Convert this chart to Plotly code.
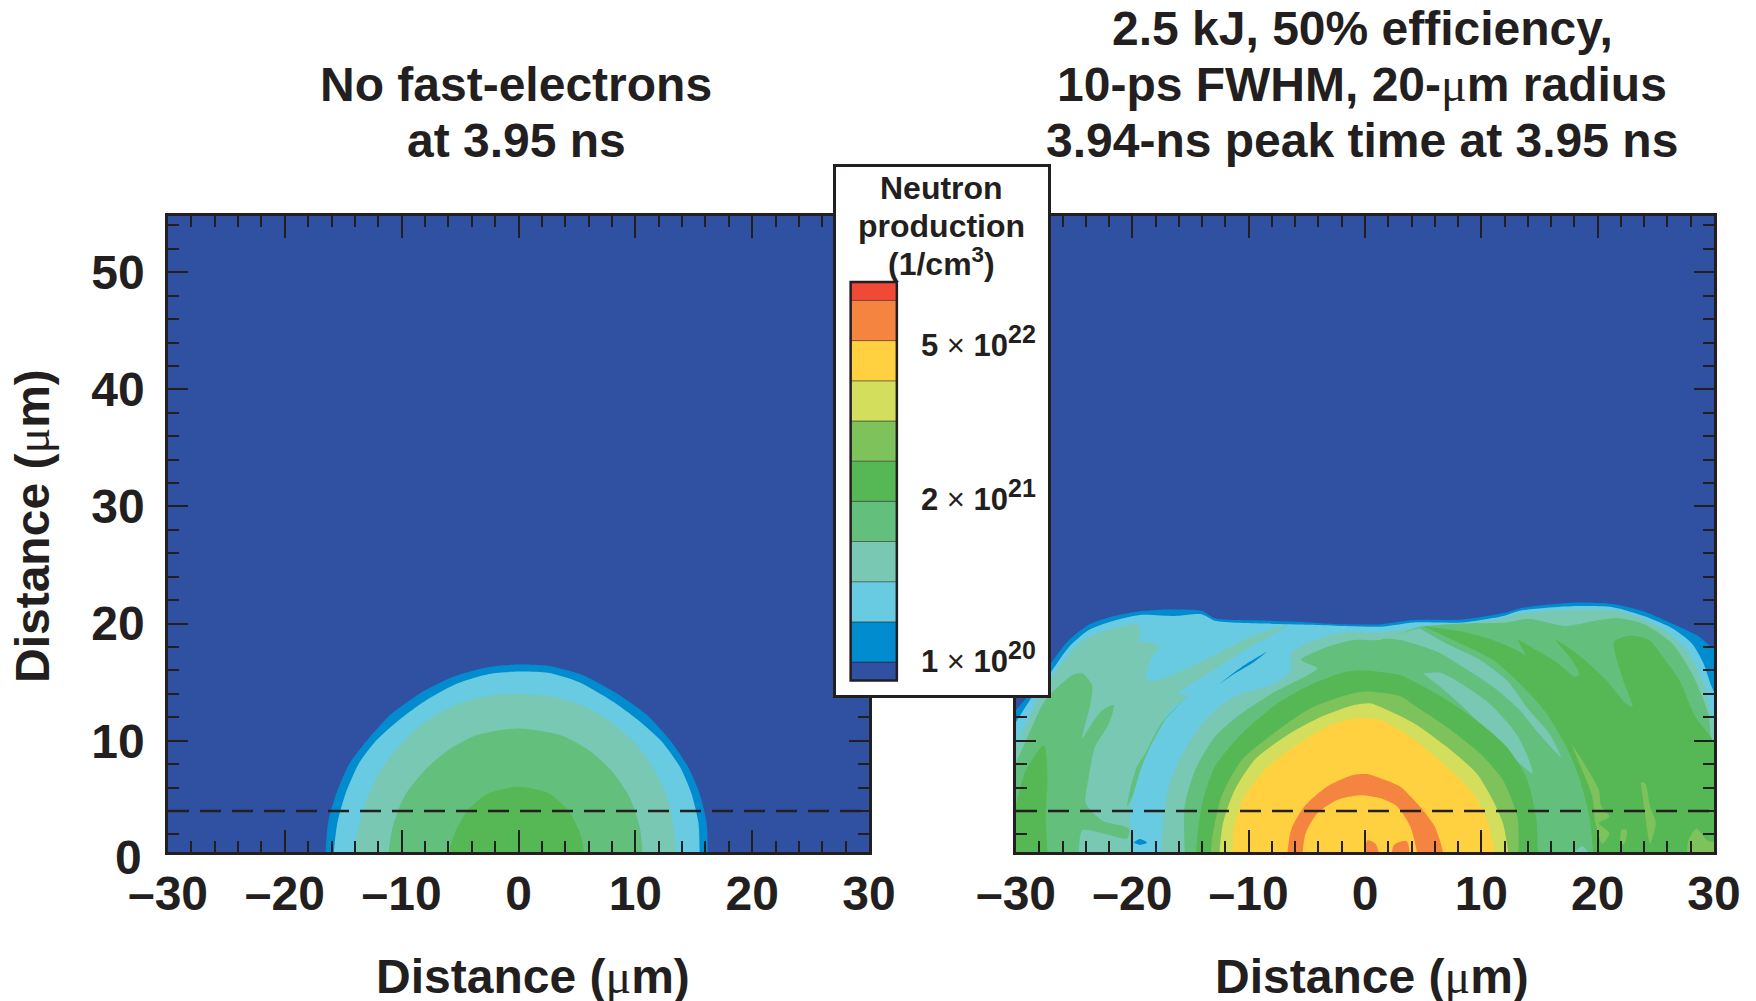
import numpy as np
import plotly.graph_objects as go

W, H = 1756, 1001
INK = "#231f20"
FONT = "Liberation Sans"

# colour levels, bottom to top of the scale
NAVY, BLUE, SKY, TEAL, MED, GREEN, LGREEN, LIME, YELLOW, ORANGE, RED = (
    "#3050a2", "#008ccf", "#68cbe2", "#78c8b4", "#62bf7c", "#55b855",
    "#7dc25a", "#d2de5c", "#ffd040", "#f58440", "#f04a36")
band_colors = [NAVY, BLUE, SKY, TEAL, MED, GREEN, LGREEN, LIME, YELLOW, ORANGE, RED]
band_heights = [0.46, 1, 1, 1, 1, 1, 1, 1, 1, 1, 0.46]

x_major = [-30, -20, -10, 0, 10, 20, 30]
x_major_text = ["–30", "–20", "–10", "0", "10", "20", "30"]
x_minor = [-28, -26, -24, -22, -18, -16, -14, -12, -8, -6, -4, -2, 2, 4, 6, 8, 12, 14, 16, 18, 22, 24, 26, 28]
y_major = [10, 20, 30, 40, 50]
y_major_text = ["10", "20", "30", "40", "50"]
y_minor = [2, 4, 6, 8, 12, 14, 16, 18, 22, 24, 26, 28, 32, 34, 36, 38, 42, 44, 46, 48, 52, 54]
dash_x = [-30, 30]
dash_y = [4, 4]

# LEFT PANEL: nested production contours
L_BLUE_X = [-16.5, -16.5, -16.3, -15.6, -14.5, -13, -11, -8.5, -5.5, -2.5, 0, 2.5, 5.5, 8.5, 11, 13, 14.5, 15.5, 16.1, 16.2, 16.2]
L_BLUE_Y = [-1, 0.5, 3, 5.5, 8, 10, 12.2, 14, 15.5, 16.3, 16.5, 16.4, 15.6, 14, 12.2, 10, 7.8, 5.5, 3, 0.5, -1]
L_SKY_X = [-15.8, -15.8, -15.5, -14.8, -13.7, -12.2, -10.2, -8, -5.2, -2.5, 0, 2.5, 5.2, 8, 10.2, 12.2, 13.8, 14.8, 15.4, 15.5, 15.5]
L_SKY_Y = [-1, 0.5, 3, 5.5, 8, 10, 11.8, 13.4, 14.9, 15.7, 15.9, 15.8, 15, 13.4, 11.8, 10, 7.8, 5.5, 3, 0.5, -1]
L_TEAL_X = [-14, -14, -13.7, -13, -11.8, -10, -8, -5.5, -2.8, 0, 2.8, 5.5, 8, 10, 11.6, 12.8, 13.3, 13.5, 13.5]
L_TEAL_Y = [-1, 0.5, 2.5, 5, 7.5, 9.8, 11.6, 13, 13.8, 14, 13.8, 13, 11.5, 9.8, 7.5, 5, 2.5, 0.5, -1]
L_MED_X = [-11.1, -11.1, -10.8, -9.8, -8, -6, -3.5, 0, 3.5, 6, 8, 9.5, 10.4, 10.6, 10.6]
L_MED_Y = [-1, 0.5, 2.5, 5.2, 7.5, 9.2, 10.5, 11.05, 10.5, 9.2, 7.4, 5.2, 2.5, 0.5, -1]
L_GREEN_X = [-5.9, -5.9, -5.5, -4.4, -2.6, 0, 2.6, 4.3, 5.3, 5.6, 5.6]
L_GREEN_Y = [-1, 0.5, 2, 4, 5.5, 6.07, 5.5, 4, 2, 0.5, -1]

# RIGHT PANEL: regions, painted from the outside in
R_BLUE_X = [-31, -30, -28.3, -26.9, -25.45, -23.75, -21.75, -19.75, -16.9, -14.05, -12.9, -8.35, -4.65, -2.1, 1.3, 4.2, 8.4, 11.9, 13.3, 15.6, 18.4, 21.3, 24.1, 26.4, 28.7, 29.8, 31, 31, -31]
R_BLUE_Y = [11, 12.6, 14.6, 16.75, 18.6, 19.9, 20.6, 21, 21.2, 21.1, 20.45, 20.25, 20.1, 19.95, 19.95, 20.3, 20.35, 20.9, 21.3, 21.6, 21.8, 21.67, 21, 20, 18.9, 18, 17.5, -1, -1]
R_SKY_X = [-31, -30, -28.3, -26.9, -25.45, -23.75, -21.75, -19.2, -16.35, -14.05, -12.9, -8.35, -4.65, 1.3, 4.2, 8.4, 11.9, 13.3, 15.6, 18.4, 21.3, 24.1, 26.4, 28.1, 29.1, 29.8, 31, 31, -31]
R_SKY_Y = [10, 11.6, 14.2, 16, 18, 19.45, 20.2, 20.75, 20.65, 20.8, 20.25, 20, 19.9, 19.74, 20.1, 20.1, 20.65, 21.1, 21.36, 21.5, 21.4, 20.6, 19.6, 18.3, 16.6, 14.6, 12, -1, -1]
R_TEAL_TOP_X = [4.7, 8.4, 11.9, 13.6, 16.1, 19, 21.8, 24.1, 26.1, 27.8, 29.1, 29.8, 31, 31, 14]
R_TEAL_TOP_Y = [19.8, 20, 20.45, 20.9, 21.1, 21.2, 21.1, 20.3, 19.2, 17.5, 14.9, 12.05, 9, -1, -1]
R_TEAL_LEFT_X = [-31, -30, -29.1, -28, -26.3, -24.6, -22.6, -19.5, -19.3, -19.5, -17.75, -18.6, -18.75, -17.75, -15.2, -12.6, -9.5, -6.65, -10.1, -13.5, -16.05, -15.2, -16.6, -17.75, -19.2, -20, -20.2, -19.9, -19.9, -31]
R_TEAL_LEFT_Y = [7, 9.5, 11.5, 13.8, 16.3, 18.3, 19.3, 19.9, 18.9, 18.5, 18.2, 16.6, 15.2, 15.2, 16.2, 17.5, 19, 19.8, 17.9, 15.75, 14.05, 13.8, 12.8, 10.9, 8.1, 5.8, 3, 0.4, -1, -1]
R_TEAL_ARCH_X = [-17.5, -17.5, -17.2, -16.6, -15.35, -13.5, -11.2, -7.8, -6.35, -6.35, -3.8, -1.25, 1.3, 4.7, 7, 9.9, 12.15, 14.1, 15.85, 16.85, 14]
R_TEAL_ARCH_Y = [-1, 0.5, 4.4, 6.9, 9.5, 12.05, 13.8, 14.85, 16, 17.5, 18.75, 19.3, 19.2, 19.6, 18.3, 16.9, 15.2, 12.6, 10.6, 8.6, -1]
R_MED_X = [-15.5, -15.5, -15.5, -14.6, -12.9, -10.6, -7.5, -4.1, -5.5, -3.25, -0.95, 1.3, 4.7, 8.4, 12.15, 14.1, 17.3, 19.8, 21.8, 24.1, 26.4, 28.1, 29.5, 29.8, 31, 31]
R_MED_Y = [-1, 0.5, 4.4, 7.5, 10.35, 12.35, 14.3, 16.2, 16.9, 18, 18.6, 18.6, 19.7, 20, 20.1, 20.4, 19.8, 20.25, 20.45, 19.9, 18.3, 15.75, 12.35, 10.1, 8, -1]
R_DIAG1_X = [4.7, 7, 9.9, 12.15, 14.1, 15.85, 16.85, 14.95, 13.3, 11, 8.4, 6.2, 3, 1.3]
R_DIAG1_Y = [19.6, 18.3, 16.9, 15.2, 12.6, 10.6, 8.6, 10.6, 12.6, 14.6, 16.3, 17.6, 18.6, 18.75]
R_DIAG2_X = [5, 6.5, 8.7, 11, 13, 14, 14.4, 12.7, 10.7, 8.4, 6.45]
R_DIAG2_Y = [15.75, 15.8, 14.6, 12.9, 10.6, 8.6, 7.2, 8.6, 10.6, 12.9, 14.6]
R_GREEN_RIGHT_X = [5, 8.4, 11, 13, 13.85, 13.15, 14.7, 16.4, 18.1, 18.4, 17.7, 16.4, 18.4, 20.7, 22.4, 23, 22.1, 21.4, 22.7, 24.4, 25.8, 27, 28.4, 29.8, 31, 31, 19.6, 19.6, 19.3, 18.4, 17.3, 15.6, 13.6, 11, 8.2]
R_GREEN_RIGHT_Y = [19.8, 19.3, 18.6, 17.75, 17.3, 18.6, 17.75, 16.75, 15.45, 15.75, 17, 18.6, 17.3, 15.2, 13.2, 12.9, 15.45, 18.45, 18.95, 18.6, 16.9, 15.2, 12.05, 10.2, 8, -1, -1, 0.5, 3.5, 6.9, 9.5, 12.35, 14.6, 16.9, 18.3]
R_MED_LEFT_X = [-31, -30, -29.1, -27.45, -25.15, -24.3, -23.45, -23.6, -24.3, -23.45, -22.6, -21.6, -22, -23.2, -23.75, -24, -22.6, -20.3, -20.45, -22, -24.3, -24.6, -24.6, -31]
R_MED_LEFT_Y = [6, 8.1, 10.1, 13.5, 15.6, 15.75, 14.75, 13.2, 10.2, 11.5, 12.6, 13.05, 11.5, 9.5, 6.9, 4.65, 3.2, 2.5, 1.65, 1.95, 2.35, 0.5, -1, -1]
R_GREEN_LEFT_X = [-31, -31, -30, -29.15, -27.6, -27.3, -27.45, -27.3, -27.3]
R_GREEN_LEFT_Y = [-1, 3, 4.65, 7.5, 9.6, 6.9, 3.5, 0.5, -1]
R_MED_STREAK_X = [-15.35, -17.5, -18.9, -19.6, -20.2, -20.45, -20, -19.3, -18.45, -17.2]
R_MED_STREAK_Y = [13.75, 11.5, 8.9, 7.8, 5.8, 4.4, 5.2, 7.5, 9.5, 11.8]
R_BLUE_STREAK_X = [-12.65, -10.6, -8.5, -9.5, -11.2]
R_BLUE_STREAK_Y = [14.75, 16.3, 17.55, 16.75, 15.75]
R_BLUE_SPOT_X = [-19.9, -19.35, -18.75, -19.35]
R_BLUE_SPOT_Y = [1.3, 1.6, 1.3, 1.1]
R_TEAL_SPOT_X = [18, 18.7, 19.2, 19, 18]
R_TEAL_SPOT_Y = [0.5, 1, 0.4, -1, -1]
R_LG1_X = [17.7, 19, 20.1, 20.3, 21, 20.1, 21, 20.4, 19.8, 19.55, 18.4]
R_LG1_Y = [9.8, 7.8, 5.8, 4.4, 3.5, 2.95, 2.1, 1.2, 3, 5.2, 8.1]
R_LG2_X = [23.7, 24.1, 24.5, 25, 24.5, 24.1]
R_LG2_Y = [6.5, 6.35, 4.4, 3, 1.2, 3.5]
R_LG3_X = [27.7, 27.8, 28.5, 29.4, 31, 31]
R_LG3_Y = [-1, 1.5, 2.5, 1.5, 1, -1]
R_LG4_X = [22, 22.5, 22.3, 21.9]
R_LG4_Y = [2.4, 2.4, 1.2, 1.2]
R_C_GREEN_X = [-14.5, -14.5, -14.05, -12.9, -10.6, -7.5, -4.4, -1.5, -0.1, 3.05, 4.2, 7, 9.9, 12.15, 13.85, 14.7, 14.85, 14.85]
R_C_GREEN_Y = [-1, 0.5, 4.4, 7.8, 10.6, 13.2, 14.9, 15.9, 16, 15.6, 15.05, 13.5, 11.5, 9.5, 6.9, 3.5, 0.5, -1]
R_C_LGREEN_X = [-13.2, -13.2, -12.35, -10.6, -7.5, -4.65, -1.25, 0.2, 3.05, 4.2, 7, 9.9, 11.85, 13.1, 13.2, 13.2]
R_C_LGREEN_Y = [-1, 1.2, 5.2, 8.35, 10.9, 12.8, 14, 14.2, 13.8, 13.05, 11.2, 8.9, 6.65, 3.5, 0.5, -1]
R_C_LIME_X = [-12.5, -12.5, -12.2, -11.2, -9.5, -6.9, -4.1, -0.95, 0.45, 1.3, 4.2, 7, 9.6, 11, 11.85, 12.3, 12.3]
R_C_LIME_Y = [-1, 0.5, 3, 5.8, 8.35, 10.35, 11.9, 13.05, 13.2, 12.9, 11.5, 9.5, 7.2, 4.9, 3, 0.5, -1]
R_C_YELLOW_X = [-11.35, -11.35, -11.2, -10.35, -8.65, -6.1, -3.25, -0.95, 1.3, 4.2, 7, 9.3, 10.4, 11.15, 11.15]
R_C_YELLOW_Y = [-1, 0.5, 3, 5.2, 7.5, 9.5, 11.2, 11.9, 11.8, 10.1, 7.8, 5.5, 3.5, 0.5, -1]
R_RING_OUT_X = [-6.65, -6.65, -6.35, -5.2, -3.25, -0.95, 0.2, 1.3, 3, 4.7, 6, 6.7, 6.7]
R_RING_OUT_Y = [-1, 0.5, 2.4, 4.4, 6.1, 7.1, 7.15, 6.8, 6.1, 4.4, 2.65, 0.5, -1]
R_RING_IN_X = [-5.35, -5.35, -5.1, -4.1, -2.4, -0.4, 1.3, 2.75, 3.9, 4.45, 4.45]
R_RING_IN_Y = [-1, 0.5, 2.1, 3.8, 4.95, 5.35, 5.1, 4.4, 2.65, 0.5, -1]
R_CORE1_X = [0, 0.2, 0.9, 1.5]
R_CORE1_Y = [-1, 1.5, 1.2, -1]
R_CORE2_X = [2.2, 2.5, 3.6, 3.9]
R_CORE2_Y = [-1, 1.1, 1.4, -1]

left_regions = [
    (L_BLUE_X, L_BLUE_Y, BLUE), (L_SKY_X, L_SKY_Y, SKY), (L_TEAL_X, L_TEAL_Y, TEAL),
    (L_MED_X, L_MED_Y, MED), (L_GREEN_X, L_GREEN_Y, GREEN),
]
right_regions = [
    (R_BLUE_X, R_BLUE_Y, BLUE), (R_SKY_X, R_SKY_Y, SKY), (R_TEAL_TOP_X, R_TEAL_TOP_Y, TEAL),
    (R_TEAL_LEFT_X, R_TEAL_LEFT_Y, TEAL), (R_TEAL_ARCH_X, R_TEAL_ARCH_Y, TEAL), (R_MED_X, R_MED_Y, MED),
    (R_DIAG1_X, R_DIAG1_Y, TEAL), (R_DIAG2_X, R_DIAG2_Y, TEAL), (R_GREEN_RIGHT_X, R_GREEN_RIGHT_Y, GREEN),
    (R_MED_LEFT_X, R_MED_LEFT_Y, MED), (R_GREEN_LEFT_X, R_GREEN_LEFT_Y, GREEN),
    (R_MED_STREAK_X, R_MED_STREAK_Y, MED), (R_BLUE_STREAK_X, R_BLUE_STREAK_Y, BLUE),
    (R_BLUE_SPOT_X, R_BLUE_SPOT_Y, BLUE), (R_TEAL_SPOT_X, R_TEAL_SPOT_Y, TEAL),
    (R_LG1_X, R_LG1_Y, LGREEN), (R_LG2_X, R_LG2_Y, LGREEN), (R_LG3_X, R_LG3_Y, LGREEN), (R_LG4_X, R_LG4_Y, LGREEN),
    (R_C_GREEN_X, R_C_GREEN_Y, GREEN), (R_C_LGREEN_X, R_C_LGREEN_Y, LGREEN), (R_C_LIME_X, R_C_LIME_Y, LIME),
    (R_C_YELLOW_X, R_C_YELLOW_Y, YELLOW), (R_RING_OUT_X, R_RING_OUT_Y, ORANGE), (R_RING_IN_X, R_RING_IN_Y, YELLOW),
    (R_CORE1_X, R_CORE1_Y, ORANGE), (R_CORE2_X, R_CORE2_Y, ORANGE),
]

fig = go.Figure()


def region(x, y, color, xa, ya):
    fig.add_trace(go.Scatter(x=x, y=y, xaxis=xa, yaxis=ya, mode="lines", fill="toself", fillcolor=color,
                             line=dict(width=0, color=color, shape="spline", smoothing=0.7),
                             hoverinfo="skip", showlegend=False))


for rx, ry, c in left_regions:
    region(rx, ry, c, "x", "y")
for rx, ry, c in right_regions:
    region(rx, ry, c, "x2", "y2")
for xa, ya in (("x", "y"), ("x2", "y2")):
    fig.add_trace(go.Scatter(x=dash_x, y=dash_y, xaxis=xa, yaxis=ya, mode="lines", hoverinfo="skip",
                             showlegend=False, line=dict(color=INK, width=2.6, dash="21px,11px")))

# Scale box: third subplot painted over the two panels
BAR_X = 0.178
BAR_W = 0.218
fig.add_trace(go.Bar(x=[0.5], y=[13.25], base=[-0.375], width=[1], xaxis="x3", yaxis="y3",
                     marker=dict(color="white", line=dict(width=0)), hoverinfo="skip", showlegend=False))
bases = np.concatenate([[0], np.cumsum(band_heights)[:-1]])
fig.add_trace(go.Bar(x=[BAR_X] * len(band_heights), y=band_heights, base=bases, width=[BAR_W] * len(band_heights),
                     xaxis="x3", yaxis="y3", hoverinfo="skip", showlegend=False,
                     marker=dict(color=band_colors, line=dict(color="rgba(35,31,32,0.45)", width=1))))
fig.add_trace(go.Bar(x=[BAR_X], y=[sum(band_heights)], base=[0], width=[BAR_W], xaxis="x3", yaxis="y3",
                     hoverinfo="skip", showlegend=False,
                     marker=dict(color="rgba(0,0,0,0)", line=dict(color=INK, width=2.5))))


def px_x(p):
    return p / W


def px_y(p):
    return 1 - p / H


def x_axis(domain):
    return dict(domain=domain, range=[-30, 30], showgrid=False, zeroline=False, showline=True, linecolor=INK,
                linewidth=2.5, mirror="allticks", ticks="inside", ticklen=22, tickwidth=2.3, tickcolor=INK,
                tickmode="array", tickvals=x_major, ticktext=x_major_text, ticklabelstandoff=-2,
                tickfont=dict(family=FONT, size=48, color=INK, weight="bold"),
                minor=dict(ticks="inside", ticklen=11, tickwidth=2.3, tickcolor=INK, tickmode="array", tickvals=x_minor))


def y_axis(anchor, labels):
    return dict(domain=[px_y(852), px_y(216)], range=[0.5, 54.8], anchor=anchor, showgrid=False, zeroline=False,
                showline=True, linecolor=INK, linewidth=2.5, mirror="allticks", ticks="inside", ticklen=20,
                tickwidth=2.3, tickcolor=INK, tickmode="array", tickvals=y_major, ticktext=y_major_text,
                ticklabelstandoff=11,
                showticklabels=labels, tickfont=dict(family=FONT, size=48, color=INK, weight="bold"),
                minor=dict(ticks="inside", ticklen=11, tickwidth=2.3, tickcolor=INK, tickmode="array", tickvals=y_minor))


def note(text, x, y, size, anchor="center", angle=0):
    return dict(text=text, x=px_x(x), y=px_y(y), xref="paper", yref="paper", xanchor=anchor, yanchor="middle",
                showarrow=False, textangle=angle, font=dict(family=FONT, size=size, color=INK))


def power(mantissa, exponent):
    return (f"<b>{mantissa}</b> × <b>10<sup><span style=\"font-size:25px\">{exponent}</span></sup></b>")


MU = '<span style="font-family:Liberation Serif">μ</span>'
DIST = f"<b>Distance (</b>{MU}<b>m)</b>"
annotations = [
    note("<b>No fast-electrons</b>", 516, 84, 48), note("<b>at 3.95 ns</b>", 516, 140, 48),
    note("<b>2.5 kJ, 50% efficiency,</b>", 1362, 28, 48),
    note(f"<b>10-ps FWHM, 20-</b>{MU}<b>m radius</b>", 1362, 84, 48),
    note("<b>3.94-ns peak time at 3.95 ns</b>", 1362, 140, 48),
    note(DIST, 533, 976, 48), note(DIST, 1372, 976, 48), note(DIST, 32, 526, 48, angle=-90),
    note("<b>0</b>", 128, 857, 48),
    note("<b>Neutron</b>", 941, 188, 32), note("<b>production</b>", 941, 226, 32),
    note("<b>(1/cm<sup>3</sup>)</b>", 941, 262, 32),
    note(power(5, 22), 919, 341, 31, "left"),
    note(power(2, 21), 919, 495, 31, "left"),
    note(power(1, 20), 919, 657, 31, "left"),
]

fig.update_layout(
    width=W, height=H, autosize=False, margin=dict(l=0, r=0, t=0, b=0, autoexpand=False), paper_bgcolor="white",
    plot_bgcolor=NAVY, showlegend=False, barmode="overlay", annotations=annotations,
    xaxis=x_axis([px_x(168), px_x(869)]), yaxis=y_axis("x", True),
    xaxis2=dict(x_axis([px_x(1016), px_x(1714)]), anchor="y2"), yaxis2=y_axis("x2", False),
    xaxis3=dict(domain=[px_x(836), px_x(1048)], range=[0, 1], anchor="y3", showgrid=False, zeroline=False,
                showticklabels=False, ticks="", showline=True, mirror=True, linecolor=INK, linewidth=2.5),
    yaxis3=dict(domain=[px_y(695), px_y(167)], range=[-0.36, 12.78], anchor="x3", showgrid=False, zeroline=False,
                showticklabels=False, ticks="", showline=True, mirror=True, linecolor=INK, linewidth=2.5),
)

fig.write_html("out.html", config=dict(displayModeBar=False),
               post_script="document.body.style.margin='0';document.body.style.overflow='hidden';")
